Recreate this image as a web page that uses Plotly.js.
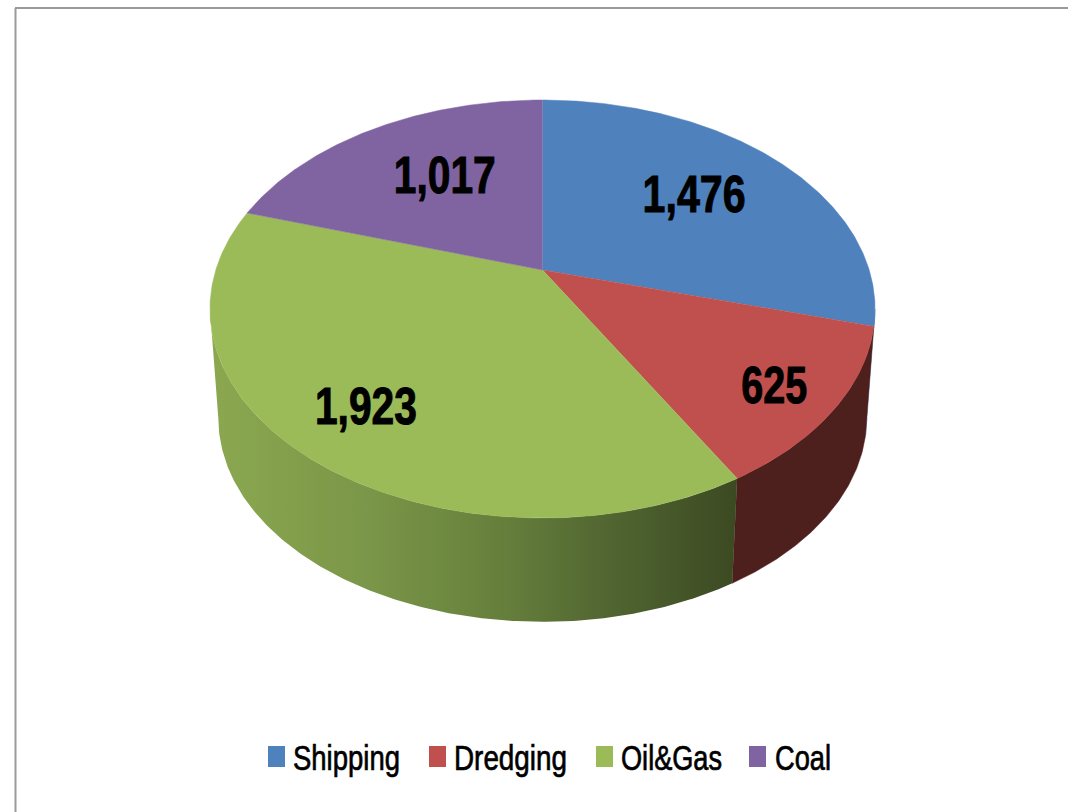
<!DOCTYPE html>
<html><head><meta charset="utf-8">
<script src="https://cdn.plot.ly/plotly-3.0.1.min.js"></script>
<style>html,body{margin:0;padding:0;background:#fff;overflow:hidden}#c{width:1068px;height:812px}</style>
</head><body><div id="c"></div>
<script>
const categories = ['Shipping','Dredging','Oil&Gas','Coal'];
const values = [1476,625,1923,1017];
const valueLabels = ['1,476','625','1,923','1,017'];
const colors = ['#4F81BD','#C0504D','#9BBB59','#8064A2'];
const labelRadius = [0.62,0.82,0.76,0.62];
const labelDX = [1,-2,-2,12];
const labelDY = [0,9,7,2];
const labelWidths = [103,66,102,102];
const legendMarkerX = [268,429,596,749];
const legendTextX = [293,454,621,775];
const legendTextWidths = [107,113,101,56];

const view = {cx:542.5, apexY:270, a:326.7, b:201.7, k:0.1866};
const floor = {cx:542.5, apexY:380, a:318.5, b:196.7, k:0.1866};
const total = values.reduce((s,v)=>s+v,0);
function proj(p,deg,r){
  const t=deg*Math.PI/180, u=r*Math.sin(t), v=-r*Math.cos(t), w=1-p.k*v;
  return [p.cx+p.a*u/w, p.apexY+p.b*v/w];
}
let acc=0;
const spans=values.map(v=>{const s=acc/total*360; acc+=v; return [s,acc/total*360];});
function arc(p,a,b){
  const n=Math.max(2,Math.ceil(Math.abs(b-a)*2)), out=[];
  for(let i=0;i<=n;i++) out.push(proj(p,a+(b-a)*i/n,1));
  return out;
}
const traces=[];
function poly(pts,extra){
  traces.push(Object.assign({type:'scatter',mode:'lines',x:pts.map(q=>q[0]),y:pts.map(q=>q[1]),
    fill:'toself',showlegend:false,hoverinfo:'skip'},extra));
}
function wall(a,b,extra){ poly(arc(view,a,b).concat(arc(floor,b,a)),extra); }
const tangent=Math.acos(view.k)*180/Math.PI;
const rightEdge=90+(90-tangent), leftEdge=270-(90-tangent);
const dark='#4D1F1D';
wall(rightEdge,spans[0][1],{line:{width:0.5,color:'#2c4a70'},fillcolor:'#2c4a70'});
wall(spans[1][0],spans[1][1],{line:{width:0.5,color:dark},fillcolor:dark});
wall(spans[2][0],leftEdge,{line:{width:0},fillcolor:'#6d8a3f',
  fillgradient:{type:'horizontal',start:212,stop:735,
    colorscale:[[0,'#8BA850'],[0.3,'#7A9648'],[0.55,'#66803C'],[0.78,'#4F6330'],[1,'#3C4A22']]}});
spans.forEach((s,i)=>{
  poly([[view.cx,view.apexY]].concat(arc(view,s[0],s[1])),
    {line:{width:0.5,color:colors[i]},fillcolor:colors[i]});
});
const lp=spans.map((s,i)=>proj(view,(s[0]+s[1])/2,labelRadius[i]));
traces.push({type:'scatter',mode:'text',x:lp.map((q,i)=>q[0]+labelDX[i]),y:lp.map((q,i)=>q[1]+labelDY[i]),
  text:valueLabels,textposition:'middle center',showlegend:false,hoverinfo:'skip',
  textfont:{family:'"Liberation Sans",sans-serif',size:51,color:'#000',weight:700}});
const labelTrace=traces.length-1;
categories.forEach((c,i)=>{
  poly([[legendMarkerX[i],746],[legendMarkerX[i]+17,746],[legendMarkerX[i]+17,767],[legendMarkerX[i],767]],
    {line:{width:0},fillcolor:colors[i]});
});
traces.push({type:'scatter',mode:'text',x:legendTextX,y:categories.map(()=>761),text:categories,textposition:'middle right',
  showlegend:false,hoverinfo:'skip',
  textfont:{family:'"Liberation Sans",sans-serif',size:35,color:'#000'}});
const hidden={visible:false,fixedrange:true};
Plotly.newPlot('c',traces,{
  width:1068,height:812,margin:{l:0,r:0,t:0,b:0},paper_bgcolor:'#fff',plot_bgcolor:'#fff',showlegend:false,
  xaxis:Object.assign({range:[0,1068]},hidden),
  yaxis:Object.assign({range:[812,0]},hidden),
  shapes:[
    {type:'line',xref:'paper',yref:'paper',x0:15.5/1068,x1:15.5/1068,y0:0,y1:1-8/812,line:{color:'#9a9a9a',width:2}},
    {type:'line',xref:'paper',yref:'paper',x0:15/1068,x1:1,y0:1-8/812,y1:1-8/812,line:{color:'#9a9a9a',width:2}}
  ]
},{displayModeBar:false,staticPlot:true}).then(()=>{
  const groups=document.querySelectorAll('.scatterlayer .trace');
  const squeeze=(g,w,stroke)=>g.querySelectorAll('.textpoint text').forEach((t,i)=>{
    t.setAttribute('textLength',w[i]); t.setAttribute('lengthAdjust','spacingAndGlyphs');
    t.style.stroke='#000';t.style.strokeWidth=stroke;
  });
  squeeze(groups[labelTrace],labelWidths,'1px');
  squeeze(groups[groups.length-1],legendTextWidths,'0.7px');
});
</script></body></html>
